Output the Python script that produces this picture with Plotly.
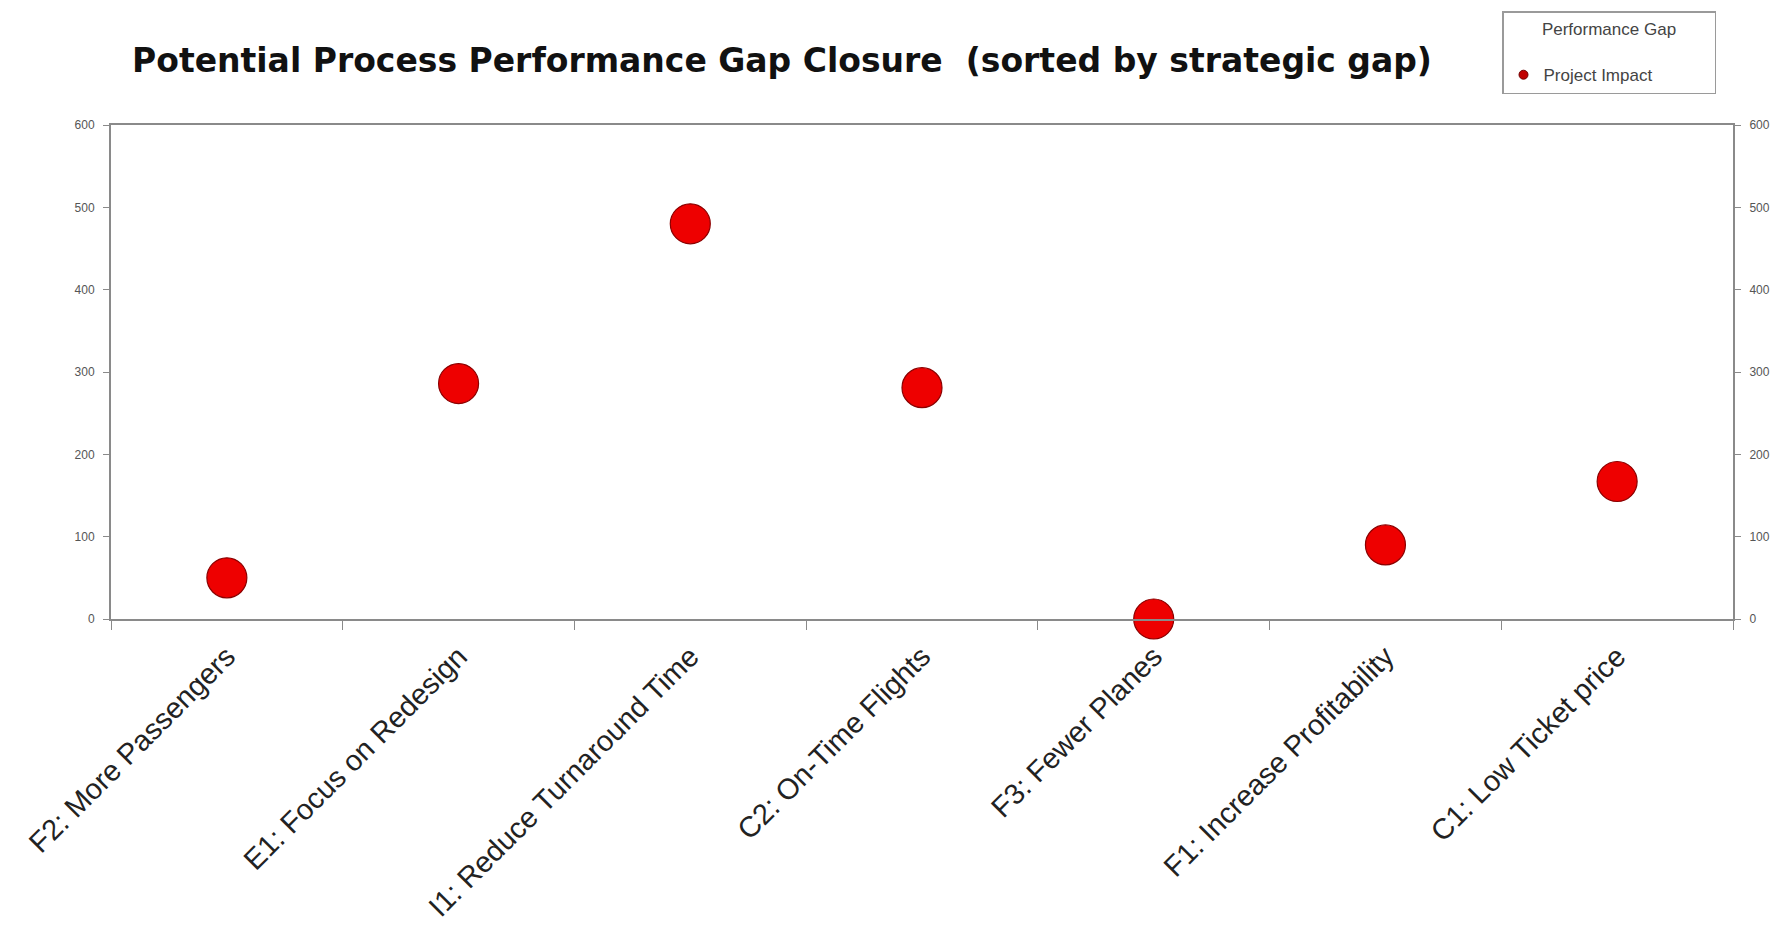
import plotly.graph_objects as go

# Strategic objectives, sorted by strategic gap
categories = [
    "F2: More Passengers",
    "E1: Focus on Redesign",
    "I1: Reduce Turnaround Time",
    "C2: On-Time Flights",
    "F3: Fewer Planes",
    "F1: Increase Profitability",
    "C1: Low Ticket price",
]
project_impact = [50, 286, 480, 281, 0, 90, 167]
y_ticks = [0, 100, 200, 300, 400, 500, 600]

W, H = 1790, 929
ML, MR, MT, MB = 111, 57, 123, 310

AXIS_GREY = "#8a8a8a"
TICK_FONT = dict(family="Liberation Sans, Arial, sans-serif", size=12, color="#555555")
LEGEND_FONT = dict(family="Liberation Sans, Arial, sans-serif", size=17, color="#444444")

fig = go.Figure()

# Data points
fig.add_trace(go.Scatter(
    x=categories, y=project_impact,
    mode="markers",
    name="Project Impact",
    showlegend=False,
    marker=dict(size=40, color="#ee0000", line=dict(color="#8b0000", width=1.2)),
    cliponaxis=False,
))

# Small legend swatch for the series (on the secondary axis so it is drawn)
fig.add_trace(go.Scatter(
    x=[None], y=[None],
    mode="markers",
    name="Project Impact" + "\u00a0" * 12,
    yaxis="y2",
    marker=dict(size=9, color="#c00000", line=dict(color="#700000", width=1)),
))

axis_common = dict(
    range=[0, 600],
    tickmode="array",
    tickvals=y_ticks,
    ticktext=[str(v) for v in y_ticks],
    tickfont=TICK_FONT,
    ticks="outside",
    ticklen=6,
    tickcolor=AXIS_GREY,
    showline=True, linecolor=AXIS_GREY, linewidth=2,
    showgrid=False,
    zeroline=False,
    ticklabelstandoff=6,
    automargin=False,
    fixedrange=True,
)

fig.update_layout(
    width=W, height=H,
    margin=dict(l=ML, r=MR, t=MT, b=MB),
    paper_bgcolor="white",
    plot_bgcolor="white",
    title=dict(
        text="<b>Potential Process Performance Gap Closure  (sorted by strategic gap)</b>",
        font=dict(family="DejaVu Sans, Verdana, sans-serif", size=33, color="#111111"),
        xref="container", yref="container",
        x=782 / W, y=1 - 60 / H,
        xanchor="center", yanchor="middle",
    ),
    legend=dict(
        title=dict(text="Performance Gap<br> ", side="top center", font=LEGEND_FONT),
        font=LEGEND_FONT,
        x=(1502 - ML) / (W - ML - MR), y=1 + (MT - 9) / (H - MT - MB),
        xanchor="left", yanchor="top",
        bgcolor="white",
        bordercolor="#9a9a9a", borderwidth=1.5,
        itemwidth=30,
    ),
    xaxis=dict(
        type="category",
        range=[-0.5, len(categories) - 0.5],
        tickmode="array",
        tickvals=categories,
        ticktext=categories,
        tickangle=-45,
        tickfont=dict(family="Liberation Sans, Arial, sans-serif", size=29, color="#222222"),
        ticks="outside",
        ticklen=9,
        tickcolor=AXIS_GREY,
        tickwidth=1,
        tickson="boundaries",
        ticklabelstandoff=7,
        showline=True, linecolor=AXIS_GREY, linewidth=2,
        mirror=True,
        showgrid=False,
        zeroline=False,
        automargin=False,
        fixedrange=True,
    ),
    yaxis=dict(**axis_common),
    yaxis2=dict(overlaying="y", side="right", anchor="x", **axis_common),
)

fig.write_html("out.html")
